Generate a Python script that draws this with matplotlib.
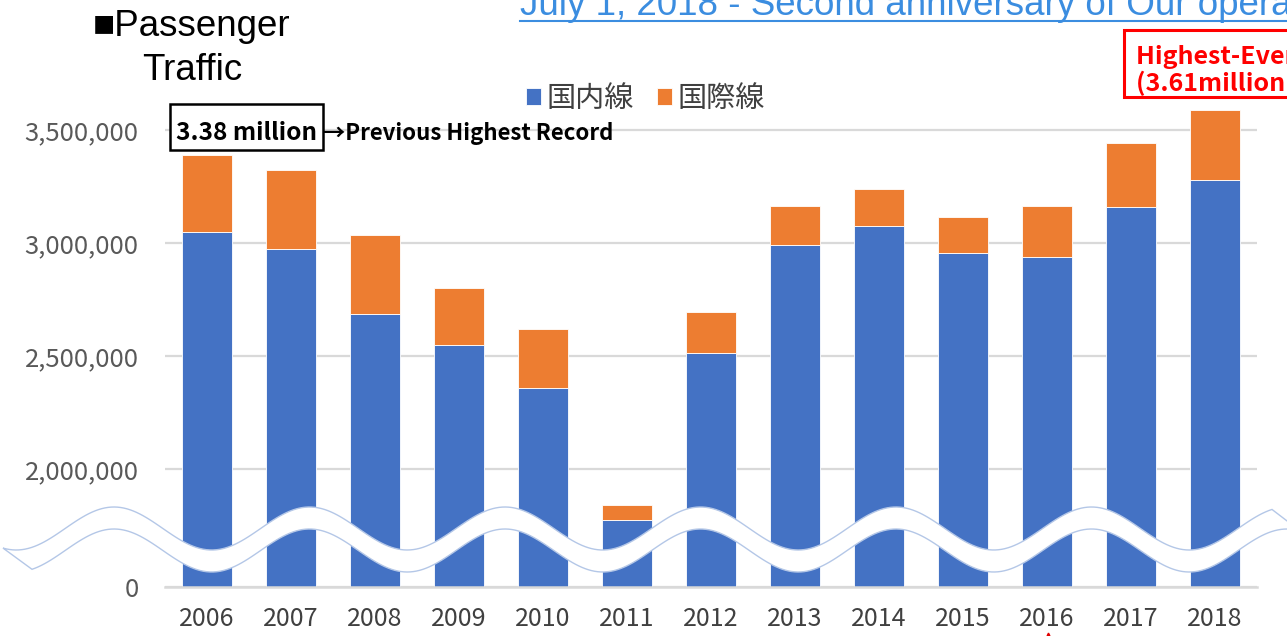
import numpy as np
import matplotlib.pyplot as plt
from matplotlib.patches import Rectangle, Polygon

plt.rcParams['font.family'] = ['Noto Sans CJK JP', 'DejaVu Sans']

# data
years = ['2006', '2007', '2008', '2009', '2010', '2011', '2012',
         '2013', '2014', '2015', '2016', '2017', '2018']
domestic = [3047000, 2973000, 2687000, 2549000, 2358000, 1774000, 2513000,
            2991000, 3075000, 2956000, 2940000, 3159000, 3280000]
international = [342000, 350000, 348000, 251000, 260000, 67000, 182000,
                 174000, 163000, 158000, 225000, 282000, 307000]
series_names = ['国内線', '国際線']
y_floor = 1478000  # broken axis: bottom of the axis is labelled "0"
y_ticks = [y_floor, 2000000, 2500000, 3000000, 3500000]
y_labels = ['0', '2,000,000', '2,500,000', '3,000,000', '3,500,000']

BLUE = '#4472C4'
ORANGE = '#ED7D31'
ARIAL = ['Liberation Sans', 'DejaVu Sans']

W, H = 1287, 636
fig = plt.figure(figsize=(W / 100, H / 100), dpi=100)
ax = fig.add_axes([165 / W, 1 - 587 / H, 1092 / W, 492 / H])

x = np.arange(len(years))
b1 = ax.bar(x, domestic, width=0.6, color=BLUE, edgecolor='white', linewidth=0.6, zorder=2)
b2 = ax.bar(x, international, bottom=domestic, width=0.6, color=ORANGE,
            edgecolor='white', linewidth=0.6, zorder=2)

ax.set_xlim(-0.5, 12.5)
ax.set_ylim(y_floor, 3655000)
ax.set_xticks(x)
ax.set_xticklabels(years, fontsize=18, color='#404040')
ax.set_yticks(y_ticks)
ax.set_yticklabels(y_labels, fontsize=18.5, color='#595959')
ax.tick_params(axis='both', length=0)
ax.tick_params(axis='y', pad=19)
ax.tick_params(axis='x', pad=14)
ax.grid(axis='y', color='#d9d9d9', linewidth=1.6, zorder=0)
for s in ['top', 'right', 'left']:
    ax.spines[s].set_visible(False)
ax.spines['bottom'].set_color('#d9d9d9')
ax.spines['bottom'].set_linewidth(1.8)

fig.legend([b1, b2], series_names, loc='center left',
           bbox_to_anchor=(526 / W, 1 - 99 / H), ncol=2, frameon=False,
           fontsize=21, handlelength=0.5, handleheight=0.5, handletextpad=0.2,
           columnspacing=0.8, borderpad=0, borderaxespad=0, labelcolor='#404040')

# overlay in pixel coordinates for decorations
ov = fig.add_axes([0, 0, 1, 1], zorder=5)
ov.set_xlim(0, W)
ov.set_ylim(H, 0)
ov.axis('off')
ov.patch.set_alpha(0)

# wave (axis break band)
period, phase, mid, amp, band = 195.5, 114, 528.5, 21.5, 22
xu = np.linspace(3, 1272, 400)
yu = mid - amp * np.cos(2 * np.pi * (xu - phase) / period)
xl = np.linspace(1300, 32, 400)
yl = mid + band - amp * np.cos(2 * np.pi * (xl - phase) / period)
pts = np.vstack([np.column_stack([xu, yu]), np.column_stack([xl, yl])])
ov.add_patch(Polygon(pts, closed=True, facecolor='white', edgecolor='#b4c7e7',
                     linewidth=1.0))

# titles
ov.text(192, 36, '■Passenger', ha='center', va='baseline', fontsize=26.5,
        family=ARIAL, color='black')
ov.text(192, 80, 'Traffic', ha='center', va='baseline', fontsize=26.5,
        family=ARIAL, color='black')
ov.text(520, 15, 'July 1, 2018 - Second anniversary of Our operation',
        ha='left', va='baseline', fontsize=26.5, color='#3b8de0', family=ARIAL)
ov.plot([520, W], [21, 21], color='#3b8de0', linewidth=1.5)

# previous record box
ov.add_patch(Rectangle((170, 104), 153, 46, facecolor='white', edgecolor='black', linewidth=1.8))
ov.text(246, 140, '3.38 million', ha='center', va='baseline', fontsize=17.5,
        fontweight='bold', color='black')
ov.text(323, 140, '→Previous Highest Record', ha='left', va='baseline',
        fontsize=16, fontweight='bold', color='black')

# highest ever box
ov.add_patch(Rectangle((1124, 30), 200, 67, facecolor='white', edgecolor='#ff0000', linewidth=2.2))
ov.text(1136, 64, 'Highest-Ever Record', ha='left', va='baseline', fontsize=18,
        fontweight='bold', color='#ff0000')
ov.text(1136, 91, '(3.61million passengers)', ha='left', va='baseline', fontsize=18,
        fontweight='bold', color='#ff0000')
ov.plot([1048], [634], marker='^', color='#e00000', markersize=2)

fig.savefig('out.png', dpi=100)
